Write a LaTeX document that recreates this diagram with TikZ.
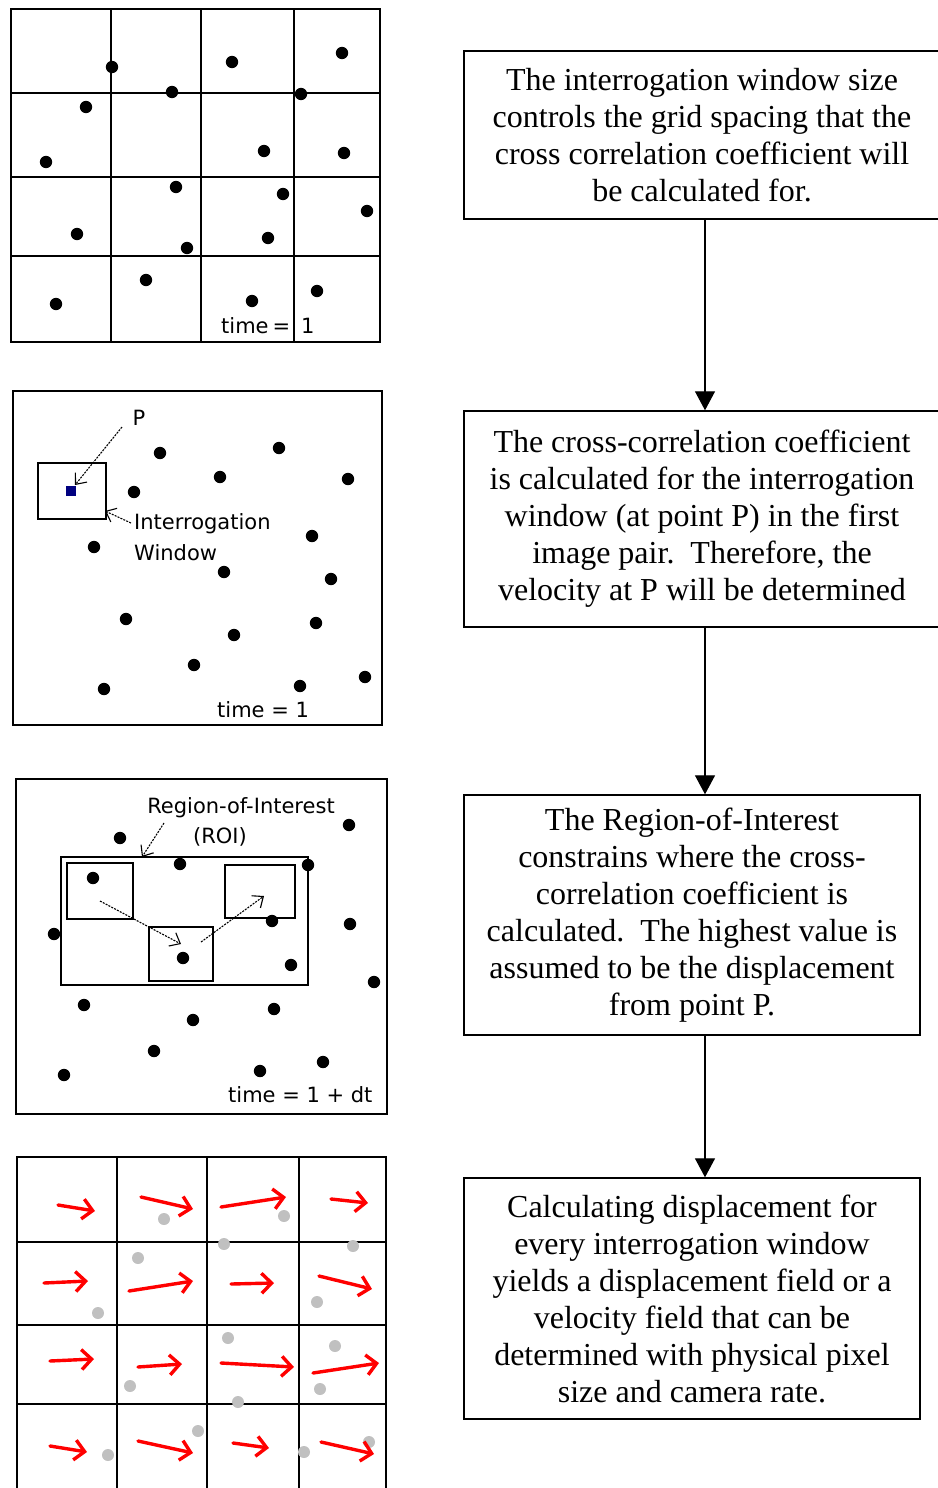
\documentclass[tikz,border=0pt]{standalone}
\usepackage{fontspec}
\setmainfont{Liberation Serif}
\newfontfamily\lblfont{DejaVu Sans}
\usetikzlibrary{arrows.meta}
\definecolor{ptgray}{HTML}{C0C0C0}
\definecolor{ptnavy}{HTML}{000080}
\begin{document}
\begin{tikzpicture}[x=1pt,y=-1pt,
 frame/.style={draw=black,line width=1.4pt},
 lbl/.style={font=\lblfont\fontsize{21}{25}\selectfont, inner sep=0pt},
 textbox/.style={draw, line width=1.4pt, align=center, font=\fontsize{32}{37}\selectfont, inner sep=0pt},
 flow/.style={line width=1.3pt, -{Triangle[length=19pt,width=20pt]}},
 dashptr/.style={line width=1.1pt, dash pattern=on 2pt off 1.2pt, -{Straight Barb[length=9pt,width=15pt]}},
 vel/.style={draw=red, line width=3.4pt, line cap=round, -{Straight Barb[length=10pt,width=20pt]}}
]
\useasboundingbox (0,0) rectangle (937,1488);
\fill[white] (0,0) rectangle (937,1488);

% ---------- Panel 1 ----------
\draw[frame] (11,9) rectangle (380,342);
\draw[frame] (111,9) -- (111,342) (201,9) -- (201,342) (294,9) -- (294,342);
\draw[frame] (11,93) -- (380,93) (11,177) -- (380,177) (11,256) -- (380,256);
\foreach \px/\py in {112/67,232/62,342/53,172/92,301/94,86/107,46/162,264/151,344/153,176/187,283/194,367/211,77/234,187/248,268/238,146/280,56/304,252/301,317/291}
  \fill (\px,\py) circle[radius=6.2pt];
\node[lbl, anchor=west] (t1) at (221,326) {time\hspace{4pt}=\hspace{11pt}1};

% ---------- Panel 2 ----------
\draw[frame] (13,391) rectangle (382,725);
\draw[line width=1.3pt] (38,463) rectangle (106,519);
\fill[ptnavy] (66,486) rectangle (76,496);
\foreach \px/\py in {160/453,279/448,220/477,348/479,134/492,312/536,94/547,224/572,331/579,126/619,234/635,316/623,194/665,104/689,300/686,365/677}
  \fill (\px,\py) circle[radius=6.2pt];
\node[lbl] (lp) at (139,418) {P};
\node[lbl, anchor=west] (liw1) at (134,524) {Interrogation};
\node[lbl, anchor=west] (liw2) at (134,553) {Window};
\coordinate (pst) at (122,427);
\coordinate (pend) at (75,485);
\coordinate (wst) at (131,523);
\coordinate (wend) at (105,511);
\draw[dashptr] (pst) -- (pend);
\draw[dashptr] (wst) -- (wend);
\node[lbl, anchor=west] (t2) at (217,710) {time = 1};

% ---------- Panel 3 ----------
\draw[frame] (16,779) rectangle (387,1114);
\draw[line width=1.3pt] (61,857) rectangle (308,985);
\draw[line width=1.3pt] (67,863) rectangle (133,919);
\draw[line width=1.3pt] (149,927) rectangle (213,981);
\draw[line width=1.3pt] (225,865) rectangle (295,918);
\foreach \px/\py in {120/838,349/825,180/864,308/865,93/878,272/921,350/924,54/934,183/958,291/965,374/982,84/1005,274/1009,193/1020,154/1051,64/1075,260/1071,323/1062}
  \fill (\px,\py) circle[radius=6.2pt];
\node[lbl] (roi1) at (241,808) {Region-of-Interest};
\node[lbl] (roi2) at (220,837) {(ROI)};
\coordinate (rst) at (164,823);
\coordinate (rend) at (142,857);
\coordinate (a1s) at (100,901);
\coordinate (a1e) at (181,944);
\coordinate (a2s) at (201,942);
\coordinate (a2e) at (264,896);
\draw[dashptr] (rst) -- (rend);
\draw[dashptr] (a1s) -- (a1e);
\draw[dashptr] (a2s) -- (a2e);
\node[lbl, anchor=west] (t3) at (228,1095) {time = 1 + dt};

% ---------- Panel 4 ----------
\draw[frame] (17,1500) -- (17,1157) -- (386,1157) -- (386,1500);
\draw[frame] (117,1157) -- (117,1500) (207,1157) -- (207,1500) (299,1157) -- (299,1500);
\draw[frame] (17,1242) -- (386,1242) (17,1325) -- (386,1325) (17,1404) -- (386,1404);
\foreach \px/\py in {164/1219,284/1216,224/1244,353/1246,138/1258,98/1313,317/1302,228/1338,335/1346,130/1386,320/1389,238/1402,198/1431,108/1455,304/1452,369/1442}
  \fill[ptgray] (\px,\py) circle[radius=6pt];
\foreach \ax/\ay/\bx/\by in {58/1205/95/1211, 141/1197/193/1209, 221/1207/286/1197, 331/1199/368/1203,
  44/1283/88/1281, 129/1291/193/1281, 231/1284/274/1283, 319/1276/372/1289,
  50/1361/94/1359, 138/1367/182/1364, 221/1363/294/1367, 313/1373/379/1363,
  50/1446/87/1452, 138/1441/193/1453, 233/1443/269/1448, 321/1442/374/1454}
  \draw[vel] (\ax,\ay) -- (\bx,\by);

% ---------- Text boxes ----------
\node[textbox, minimum width=476pt, minimum height=168pt] (b1) at (702,135)
  {The interrogation window size\\controls the grid spacing that the\\cross correlation coefficient will\\be calculated for.};
\node[textbox, minimum width=476pt, minimum height=216pt] (b2) at (702,519)
  {The cross-correlation coefficient\\is calculated for the interrogation\\window (at point P) in the first\\image pair.\ \ Therefore, the\\velocity at P will be determined};
\node[textbox, minimum width=456pt, minimum height=240pt] (b3) at (692,915)
  {The Region-of-Interest\\constrains where the cross-\\correlation coefficient is\\calculated.\ \ The highest value is\\assumed to be the displacement\\from point P.};
\node[textbox, minimum width=456pt, minimum height=241pt] (b4) at (692,1298.5)
  {Calculating displacement for\\every interrogation window\\yields a displacement field or a\\velocity field that can be\\determined with physical pixel\\size and camera rate.};
\coordinate (ax) at (705,0);
\draw[flow] (b1.south -| ax) -- (b2.north -| ax);
\draw[flow] (b2.south -| ax) -- (b3.north -| ax);
\draw[flow] (b3.south -| ax) -- (b4.north -| ax);
\end{tikzpicture}
\end{document}
